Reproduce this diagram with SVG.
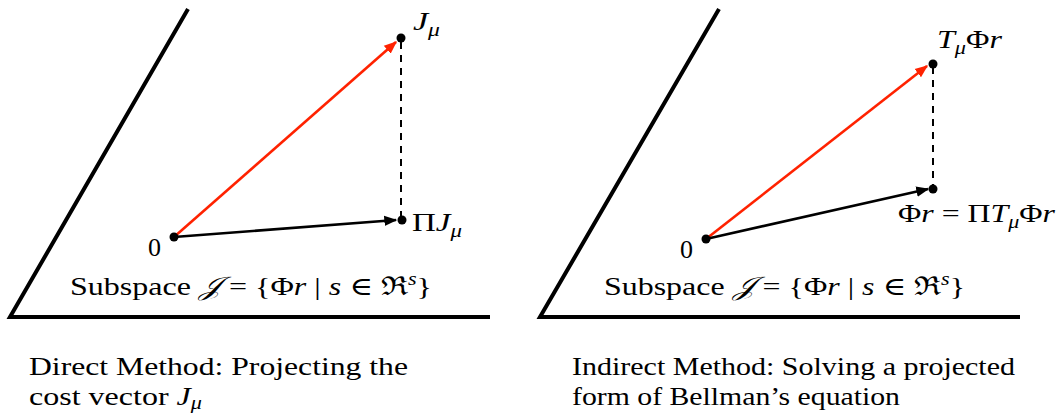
<svg xmlns="http://www.w3.org/2000/svg" width="1059" height="414" viewBox="0 0 1059 414">
<style>
.axis{stroke:#000;stroke-width:4;fill:none;stroke-linecap:butt}
.red{stroke:#ff2200;stroke-width:2.6;fill:none}
.blk{stroke:#000;stroke-width:2.6;fill:none}
.dash{stroke:#000;stroke-width:2;stroke-dasharray:7,6;fill:none}
.dot{fill:#000}
text{font-family:"Liberation Serif","DejaVu Serif",serif;font-size:26px;fill:#000}
.it{font-style:italic}
.sub{font-size:18px;font-style:italic}
</style>
<defs>
<marker id="ar" viewBox="0 0 10 10" refX="9" refY="5" markerWidth="5" markerHeight="5" orient="auto" markerUnits="strokeWidth"><path d="M0,1 L10,5 L0,9 Z" fill="#ff2200"/></marker>
<marker id="ab" viewBox="0 0 10 10" refX="9" refY="5" markerWidth="5" markerHeight="5" orient="auto" markerUnits="strokeWidth"><path d="M0,1 L10,5 L0,9 Z" fill="#000"/></marker>
</defs>
<g id="axes">
<polyline class="axis" points="188,9 10,317 490,317"/>
<polyline class="axis" points="719,9 540,317 1020,317"/>
</g>
<g id="connectors">
<line class="dash" x1="401" y1="42" x2="401" y2="218"/>
<line class="red" x1="174" y1="237" x2="396" y2="42" marker-end="url(#ar)"/>
<line class="blk" x1="174" y1="237" x2="396" y2="220" marker-end="url(#ab)"/>
<line class="dash" x1="933" y1="67" x2="933" y2="186"/>
<line class="red" x1="706" y1="239" x2="927" y2="66" marker-end="url(#ar)"/>
<line class="blk" x1="706" y1="239" x2="928" y2="189" marker-end="url(#ab)"/>
</g>
<g id="origin-left"><circle class="dot" cx="174" cy="237" r="4.5"/><text x="148" y="256">0</text></g>
<g id="J-mu"><circle class="dot" cx="401" cy="38" r="4.5"/><text x="413" y="30" textLength="27" lengthAdjust="spacingAndGlyphs"><tspan class="it">J</tspan><tspan class="sub" dy="6">μ</tspan></text></g>
<g id="Pi-J-mu"><circle class="dot" cx="402" cy="220" r="4.5"/><text x="412" y="231" textLength="50" lengthAdjust="spacingAndGlyphs">Π<tspan class="it">J</tspan><tspan class="sub" dy="6">μ</tspan></text></g>
<g id="subspace-left"><text x="70" y="295" textLength="362" lengthAdjust="spacingAndGlyphs">Subspace <tspan class="it">𝒥</tspan>  = {Φ<tspan class="it">r</tspan> | <tspan class="it">s</tspan> ∈ ℜ<tspan class="sub" dy="-10">s</tspan><tspan dy="10">}</tspan></text></g>
<g id="origin-right"><circle class="dot" cx="706" cy="239" r="4.5"/><text x="680" y="258">0</text></g>
<g id="T-mu-Phi-r"><circle class="dot" cx="933" cy="64" r="4.5"/><text x="937" y="48" textLength="65" lengthAdjust="spacingAndGlyphs"><tspan class="it">T</tspan><tspan class="sub" dy="6">μ</tspan><tspan dy="-6">Φ</tspan><tspan class="it">r</tspan></text></g>
<g id="Phi-r"><circle class="dot" cx="933" cy="189" r="4.5"/><text x="898" y="222" textLength="157" lengthAdjust="spacingAndGlyphs">Φ<tspan class="it">r</tspan> = Π<tspan class="it">T</tspan><tspan class="sub" dy="6">μ</tspan><tspan dy="-6">Φ</tspan><tspan class="it">r</tspan></text></g>
<g id="subspace-right"><text x="604" y="295" textLength="361" lengthAdjust="spacingAndGlyphs">Subspace <tspan class="it">𝒥</tspan>  = {Φ<tspan class="it">r</tspan> | <tspan class="it">s</tspan> ∈ ℜ<tspan class="sub" dy="-10">s</tspan><tspan dy="10">}</tspan></text></g>
<g id="caption-left">
<text x="29" y="375" textLength="379" lengthAdjust="spacingAndGlyphs">Direct Method: Projecting the</text>
<text x="29" y="405" textLength="173" lengthAdjust="spacingAndGlyphs">cost vector <tspan class="it">J</tspan><tspan class="sub" dy="4">μ</tspan></text>
</g>
<g id="caption-right">
<text x="572" y="375" textLength="443" lengthAdjust="spacingAndGlyphs">Indirect Method: Solving a projected</text>
<text x="572" y="405" textLength="328" lengthAdjust="spacingAndGlyphs">form of Bellman’s equation</text>
</g>
</svg>
